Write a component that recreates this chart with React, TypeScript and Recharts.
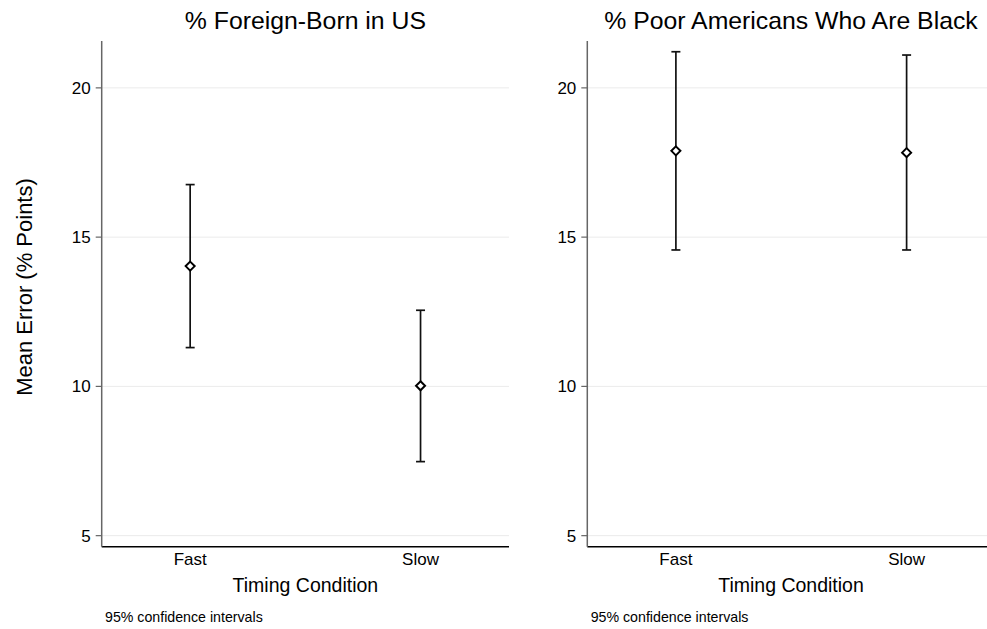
import React from 'react';
import { ComposedChart, Scatter, XAxis, YAxis, ReferenceLine, ErrorBar } from 'recharts';

const categories = ['Fast', 'Slow'];
const categoryPositions = [1, 2];
const yTicks = [5, 10, 15, 20];

const foreignMean = [14.03, 10.02];
const foreignLow = [11.3, 7.48];
const foreignHigh = [16.76, 12.55];

const blackMean = [17.89, 17.83];
const blackLow = [14.57, 14.57];
const blackHigh = [21.21, 21.1];

const titles = ['% Foreign-Born in US', '% Poor Americans Who Are Black'];
const xLabel = 'Timing Condition';
const yLabel = 'Mean Error (% Points)';
const caption = '95% confidence intervals';

const FONT = '"Liberation Sans", Arial, Helvetica, sans-serif';

function buildRows(mean: number[], low: number[], high: number[]) {
  return categoryPositions.map((x, i) => ({
    x,
    y: mean[i],
    err: [mean[i] - low[i], high[i] - mean[i]],
  }));
}

const Diamond = (props: any) => {
  const { cx, cy } = props;
  if (cx == null || cy == null) return null;
  const r = 4.5;
  return (
    <path
      d={`M${cx},${cy - r}L${cx + r},${cy}L${cx},${cy + r}L${cx - r},${cy}Z`}
      fill="#ffffff"
      stroke="#000000"
      strokeWidth={2}
    />
  );
};

type PanelProps = {
  rows: any[];
  width: number;
  yAxisWidth: number;
  marginRight: number;
  title: string;
  titleX: number;
  showYLabel: boolean;
  captionX: number;
};

function Panel({ rows, width, yAxisWidth, marginRight, title, titleX, showYLabel, captionX }: PanelProps) {
  return (
    <ComposedChart
      width={width}
      height={629}
      data={rows}
      margin={{ top: 41, right: marginRight, bottom: 0, left: 0 }}
      style={{ fontFamily: FONT }}
    >
      {yTicks.map((v) => (
        <ReferenceLine key={v} y={v} stroke="#ebebeb" strokeWidth={1} />
      ))}
      <XAxis
        type="number"
        dataKey="x"
        domain={[0.616, 2.384]}
        ticks={categoryPositions}
        tickFormatter={(v: number) => categories[categoryPositions.indexOf(v)] ?? ''}
        height={82.3}
        tickLine={false}
        tickSize={6}
        tickMargin={0}
        axisLine={{ stroke: '#000000', strokeWidth: 1.5 }}
        tick={{ fill: '#000000', fontSize: 17, fontFamily: FONT }}
        allowDataOverflow
      />
      <YAxis
        type="number"
        dataKey="y"
        domain={[4.63, 21.57]}
        ticks={yTicks}
        width={yAxisWidth}
        tickSize={6}
        tickMargin={5}
        axisLine={{ stroke: '#666666', strokeWidth: 1.5 }}
        tickLine={{ stroke: '#666666', strokeWidth: 1.2 }}
        tick={{ fill: '#000000', fontSize: 17, fontFamily: FONT }}
        allowDataOverflow
      />
      <Scatter dataKey="y" shape={<Diamond />} isAnimationActive={false}>
        <ErrorBar dataKey="err" direction="y" width={4.5} stroke="#111111" strokeWidth={1.7} isAnimationActive={false} />
      </Scatter>
      <text x={titleX} y={29} textAnchor="middle" fontSize={24.8} fill="#000" fontFamily={FONT}>
        {title}
      </text>
      <text x={titleX} y={592.3} textAnchor="middle" fontSize={19.5} fill="#000" fontFamily={FONT}>
        {xLabel}
      </text>
      <text x={captionX} y={621.7} textAnchor="start" fontSize={14.2} fill="#000" fontFamily={FONT}>
        {caption}
      </text>
      {showYLabel ? (
        <text
          x={32}
          y={287}
          transform="rotate(-90, 32, 287)"
          textAnchor="middle"
          fontSize={22}
          fill="#000"
          fontFamily={FONT}
        >
          {yLabel}
        </text>
      ) : null}
    </ComposedChart>
  );
}

export default function App() {
  const foreignRows = buildRows(foreignMean, foreignLow, foreignHigh);
  const blackRows = buildRows(blackMean, blackLow, blackHigh);
  return (
    <div
      style={{
        position: 'absolute',
        left: 0,
        top: 0,
        width: 987,
        height: 629,
        overflow: 'hidden',
        background: '#ffffff',
      }}
    >
      <div style={{ position: 'absolute', left: 0, top: 0 }}>
        <Panel
          rows={foreignRows}
          width={540}
          yAxisWidth={101.7}
          marginRight={31}
          title={titles[0]}
          titleX={305.4}
          showYLabel
          captionX={105}
        />
      </div>
      <div style={{ position: 'absolute', left: 540, top: 0 }}>
        <Panel
          rows={blackRows}
          width={470}
          yAxisWidth={47.3}
          marginRight={14.8}
          title={titles[1]}
          titleX={251}
          showYLabel={false}
          captionX={50.7}
        />
      </div>
    </div>
  );
}
